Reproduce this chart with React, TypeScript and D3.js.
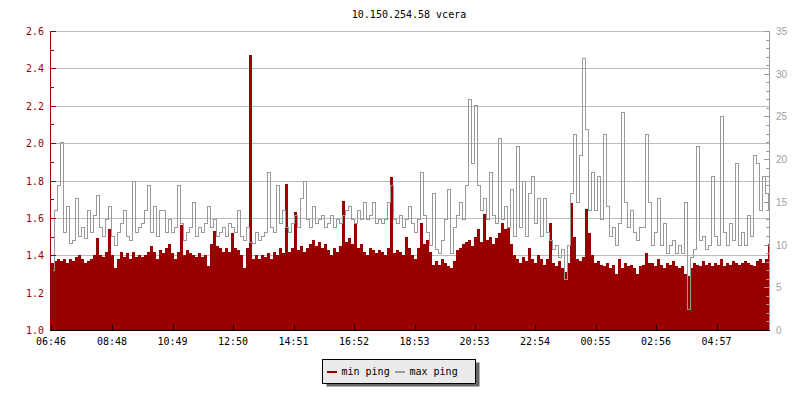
import React from "react";
import * as d3 from "d3";

const title = "10.150.254.58 vcera";
const startTime = "06:46";
const stepMinutes = 6;
const spanMinutes = 1436;
const tickLabels = ["06:46", "08:48", "10:49", "12:50", "14:51", "16:52", "18:53", "20:53", "22:54", "00:55", "02:56", "04:57"];
const leftTicks = [1.0, 1.2, 1.4, 1.6, 1.8, 2.0, 2.2, 2.4, 2.6];
const rightTicks = [0, 5, 10, 15, 20, 25, 30, 35];
const seriesNames = ["min ping", "max ping"];

// min ping (ms), one value every 6 minutes from 06:46 (left axis)
const minPing = [
  1.36, 1.37, 1.38, 1.37, 1.38, 1.36, 1.38, 1.37, 1.39, 1.40,
  1.38, 1.36, 1.37, 1.38, 1.40, 1.49, 1.40, 1.39, 1.42, 1.54,
  1.40, 1.33, 1.38, 1.42, 1.39, 1.41, 1.38, 1.42, 1.39, 1.40,
  1.39, 1.40, 1.42, 1.45, 1.42, 1.38, 1.43, 1.41, 1.44, 1.46,
  1.41, 1.38, 1.42, 1.56, 1.40, 1.43, 1.41, 1.40, 1.39, 1.41,
  1.39, 1.40, 1.34, 1.46, 1.53, 1.45, 1.44, 1.42, 1.44, 1.42,
  1.52, 1.44, 1.43, 1.40, 1.33, 1.44, 2.47, 1.38, 1.40, 1.38,
  1.40, 1.39, 1.41, 1.38, 1.42, 1.40, 1.44, 1.41, 1.78, 1.42,
  1.44, 1.63, 1.43, 1.45, 1.42, 1.44, 1.46, 1.48, 1.45, 1.47,
  1.44, 1.46, 1.43, 1.40, 1.44, 1.42, 1.45, 1.69, 1.47, 1.49,
  1.46, 1.57, 1.44, 1.46, 1.42, 1.40, 1.44, 1.43, 1.41, 1.43,
  1.42, 1.40, 1.44, 1.82, 1.41, 1.43, 1.42, 1.40, 1.50, 1.44,
  1.40, 1.38, 1.44, 1.57, 1.46, 1.48, 1.42, 1.35, 1.37, 1.35,
  1.38, 1.36, 1.34, 1.33, 1.37, 1.43, 1.44, 1.46, 1.47, 1.48,
  1.45, 1.50, 1.54, 1.47, 1.62, 1.48, 1.50, 1.46, 1.49, 1.52,
  1.57, 1.54, 1.55, 1.46, 1.40, 1.38, 1.36, 1.39, 1.37, 1.44,
  1.38, 1.36, 1.40, 1.38, 1.35, 1.38, 1.57, 1.36, 1.34, 1.37,
  1.33, 1.31, 1.36, 1.68, 1.50, 1.38, 1.37, 1.39, 1.65, 1.52,
  1.40, 1.36, 1.37, 1.35, 1.34, 1.36, 1.33, 1.35, 1.30, 1.38,
  1.33, 1.36, 1.34, 1.35, 1.33, 1.30, 1.34, 1.35, 1.41, 1.36,
  1.36, 1.34, 1.38, 1.35, 1.33, 1.36, 1.35, 1.37, 1.34, 1.33,
  1.34, 1.30, 1.29, 1.33, 1.36, 1.35, 1.34, 1.37, 1.35, 1.36,
  1.34, 1.36, 1.35, 1.38, 1.34, 1.36, 1.35, 1.37, 1.36, 1.35,
  1.36, 1.37, 1.36, 1.35, 1.34, 1.37, 1.38, 1.36, 1.38, 1.46,
];

// max ping (ms), one value every 6 minutes from 06:46 (right axis)
const maxPing = [
  7.0, 14.0, 17.0, 22.0, 11.5, 14.5, 10.2, 10.5, 15.5, 11.0,
  12.0, 10.8, 14.0, 11.5, 13.5, 15.8, 12.0, 11.0, 13.0, 14.5,
  11.0, 10.0, 11.5, 12.5, 14.0, 11.0, 10.5, 17.5, 11.5, 12.0,
  12.5, 14.0, 17.0, 11.5, 14.5, 11.0, 14.0, 14.0, 11.5, 13.0,
  11.5, 12.0, 17.0, 12.5, 10.5, 11.5, 12.0, 15.0, 11.0, 12.0,
  11.5, 12.5, 14.5, 12.0, 13.0, 11.0, 11.5, 12.0, 11.0, 12.5,
  12.0, 11.5, 14.0, 11.0, 10.5, 12.0, 10.3, 10.2, 11.5, 10.5,
  11.0, 11.5, 18.5, 12.0, 11.5, 17.0, 12.5, 14.0, 12.0, 11.5,
  12.5, 13.5, 12.0, 15.5, 17.5, 13.0, 12.0, 14.5, 12.5, 13.0,
  13.5, 12.0, 12.5, 13.5, 12.0, 13.0, 12.5, 13.5, 14.0, 14.5,
  13.0, 12.5, 14.0, 13.0, 15.0, 13.0, 13.5, 15.0, 12.5, 13.0,
  12.5, 13.0, 15.0, 17.0, 13.0, 12.5, 13.5, 12.0, 13.0, 14.5,
  12.5, 11.5, 13.0, 18.5, 13.5, 11.5, 10.0, 16.0, 9.5, 9.0,
  10.5, 13.0, 16.5, 9.0, 12.0, 13.5, 15.0, 13.0, 17.0, 27.0,
  19.5, 26.3, 17.0, 14.0, 15.5, 13.0, 18.5, 13.5, 12.5, 22.5,
  13.0, 14.5, 12.0, 16.5, 11.0, 21.5, 12.0, 17.5, 11.0, 16.0,
  18.0, 12.5, 15.5, 11.0, 15.5, 11.5, 10.5, 9.5, 10.0, 8.5,
  9.5, 6.0, 10.0, 16.0, 23.0, 15.0, 20.5, 31.8, 23.5, 14.0,
  18.5, 14.0, 18.0, 13.0, 23.0, 14.5, 11.0, 12.0, 10.0, 12.5,
  25.5, 15.0, 12.0, 14.0, 11.5, 10.5, 12.0, 12.0, 23.0, 15.0,
  10.0, 11.5, 15.5, 10.0, 12.5, 9.0, 10.0, 10.5, 9.0, 10.0,
  9.0, 15.0, 2.5, 8.5, 9.5, 21.5, 10.5, 11.0, 9.5, 10.0,
  18.0, 11.0, 10.0, 25.0, 11.5, 10.0, 12.5, 10.5, 19.5, 10.0,
  11.5, 10.0, 13.5, 11.0, 20.5, 19.5, 14.0, 18.0, 16.0, 14.0,
];

const RED = "#990000";
const GREY = "#999999";
const MONO = "'DejaVu Sans Mono', monospace";

function toMinutes(s: string) {
  const [h, m] = s.split(":").map(Number);
  return h * 60 + m;
}

export default function App() {
  const left = 51, right = 769, top = 31, bottom = 330;
  const x = d3.scaleLinear().domain([0, spanMinutes]).range([left, right]);
  const yL = d3.scaleLinear().domain([1.0, 2.6]).range([bottom, top]);
  const yR = d3.scaleLinear().domain([0, 35]).range([bottom, top]);

  const start = toMinutes(startTime);
  const offset = (s: string) => (toMinutes(s) - start + 1440) % 1440;

  const minPts: [number, number][] = minPing.map((v, i) => [i * stepMinutes, v]);
  minPts.push([spanMinutes, minPing[minPing.length - 1]]);
  const maxPts: [number, number][] = maxPing.map((v, i) => [i * stepMinutes, v]);

  const area = d3
    .area<[number, number]>()
    .x((d) => Math.round(x(d[0])))
    .y0(yL(1.0))
    .y1((d) => Math.round(yL(d[1])))
    .curve(d3.curveStepAfter);
  const line = d3
    .line<[number, number]>()
    .x((d) => Math.round(x(d[0]) + 1) + 0.5)
    .y((d) => Math.round(yR(d[1])) + 0.5)
    .curve(d3.curveStep);

  const leftMinor = d3.range(1.1, 2.6, 0.2);
  const rightMinor = d3.range(0, 36, 1).filter((v) => v % 5 !== 0);

  return (
    <svg
      width={800}
      height={400}
      style={{ position: "absolute", left: 0, top: 0, display: "block", background: "#fff" }}
    >
      <rect x={0} y={0} width={800} height={400} fill="#fff" />
      <text x={409} y={18} textAnchor="middle" fontFamily={MONO} fontSize={10} fill="#000">
        {title}
      </text>

      {/* grid */}
      {leftTicks.slice(1).map((t) => (
        <line key={"g" + t} x1={left} x2={right} y1={Math.round(yL(t)) + 0.5} y2={Math.round(yL(t)) + 0.5} stroke="#bbbbbb" strokeWidth={1} />
      ))}

      {/* series */}
      <path d={area(minPts) || ""} fill={RED} stroke="none" shapeRendering="crispEdges" />
      <path d={line(maxPts) || ""} fill="none" stroke={GREY} strokeWidth={1} shapeRendering="crispEdges" />

      {/* left axis */}
      <line x1={50.5} x2={50.5} y1={top} y2={bottom} stroke={RED} strokeWidth={1} />
      {leftTicks.map((t) => (
        <g key={"l" + t}>
          <line x1={51} x2={56} y1={Math.round(yL(t)) + 0.5} y2={Math.round(yL(t)) + 0.5} stroke={RED} />
          <text x={44} y={yL(t) + 4} textAnchor="end" fontFamily={MONO} fontSize={10} fill={RED}>
            {t.toFixed(1)}
          </text>
        </g>
      ))}
      {leftMinor.map((t) => (
        <line key={"lm" + t} x1={51} x2={54} y1={Math.round(yL(t)) + 0.5} y2={Math.round(yL(t)) + 0.5} stroke={RED} />
      ))}

      {/* right axis */}
      <line x1={769.5} x2={769.5} y1={top} y2={bottom} stroke={GREY} strokeWidth={1} />
      {rightTicks.map((t) => (
        <g key={"r" + t}>
          <line x1={764} x2={769} y1={Math.round(yR(t)) + 0.5} y2={Math.round(yR(t)) + 0.5} stroke={GREY} />
          <text x={776} y={yR(t) + 4} fontFamily="'Liberation Sans', Arial, sans-serif" fontSize={10} fill="#a0a0a0">
            {t}
          </text>
        </g>
      ))}
      {rightMinor.map((t) => (
        <line key={"rm" + t} x1={766} x2={769} y1={Math.round(yR(t)) + 0.5} y2={Math.round(yR(t)) + 0.5} stroke={GREY} />
      ))}

      {/* bottom axis */}
      <line x1={50} x2={770} y1={330.5} y2={330.5} stroke="#000" strokeWidth={1} />
      {tickLabels.map((s) => {
        const px = Math.round(x(offset(s))) + 0.5;
        return (
          <g key={"x" + s}>
            <line x1={px} x2={px} y1={325} y2={330} stroke="#000" />
            <text x={x(offset(s))} y={345} textAnchor="middle" fontFamily={MONO} fontSize={10} fill="#000">
              {s}
            </text>
          </g>
        );
      })}

      {/* legend */}
      <rect x={326.5} y={362.5} width={153} height={24} fill="#666666" />
      <rect x={322.5} y={359.5} width={153} height={24} fill="#eaeaea" stroke="#000" strokeWidth={1} />
      <line x1={327} x2={337} y1={372} y2={372} stroke={RED} strokeWidth={2} />
      <text x={341.5} y={375} fontFamily={MONO} fontSize={10} fill="#000">
        {seriesNames[0]}
      </text>
      <line x1={395} x2={405} y1={372} y2={372} stroke={GREY} strokeWidth={2} />
      <text x={409.5} y={375} fontFamily={MONO} fontSize={10} fill="#000">
        {seriesNames[1]}
      </text>
    </svg>
  );
}
